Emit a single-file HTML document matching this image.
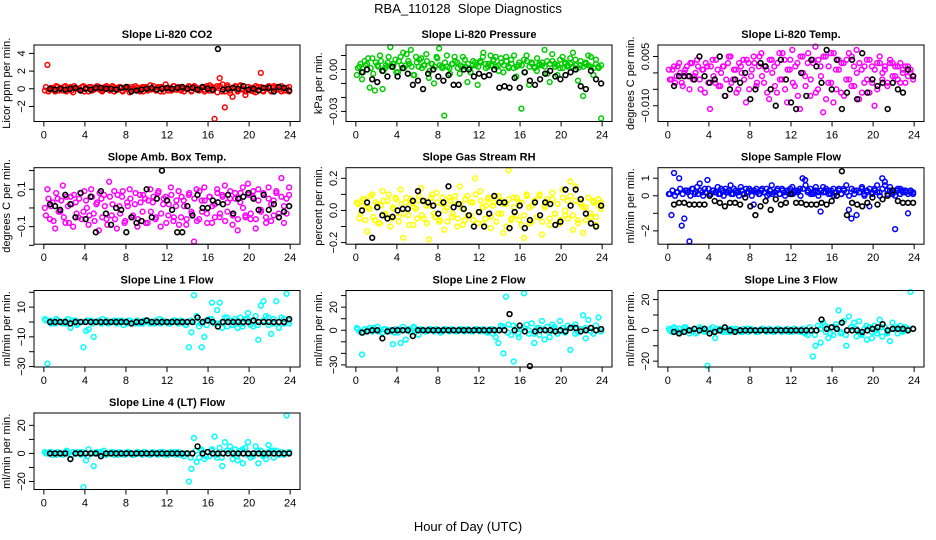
<!DOCTYPE html>
<html><head><meta charset="utf-8">
<style>
html,body{margin:0;padding:0;background:#fff;}
svg{display:block;font-family:"Liberation Sans",Arial,sans-serif;}
</style></head>
<body>
<svg id="chart" width="936" height="540" viewBox="0 0 936 540">
<rect x="0" y="0" width="936" height="540" fill="#fff"/>
<text x="468" y="13" text-anchor="middle" font-size="13" xml:space="preserve">RBA_110128  Slope Diagnostics</text>
<text x="468" y="531" text-anchor="middle" font-size="13">Hour of Day (UTC)</text>
</svg>
<script>
// ---------- data ----------
const titles = ["Slope Li-820 CO2","Slope Li-820 Pressure","Slope Li-820 Temp.","Slope Amb. Box Temp.","Slope Gas Stream RH","Slope Sample Flow","Slope Line 1 Flow","Slope Line 2 Flow","Slope Line 3 Flow","Slope Line 4 (LT) Flow"];
const yLabels = ["Licor ppm per min.","kPa per min.","degrees C per min.","degrees C per min.","percent per min.","ml/min per min.","ml/min per min.","ml/min per min.","ml/min per min.","ml/min per min."];
const colors = ["#ff0000","#00cc00","#ff00ff","#ff00ff","#ffff00","#0000ff","#00ffff","#00ffff","#00ffff","#00ffff"];
const xTicks = [0,4,8,12,16,20,24];
const yLims = [[-3.7,4.95],[-0.0372,0.0175],[-0.0148,0.0085],[-0.194,0.2155],[-0.21,0.266],[-2.76,1.6],[-30.3,21.2],[-31.8,34.4],[-23.8,25.9],[-25.7,28.8]];
const yTicks = [[-2,0,2,4],[-0.03,-0.02,-0.01,0,0.01],[-0.01,-0.005,0,0.005],[-0.2,-0.1,0,0.1,0.2],[-0.2,-0.1,0,0.1,0.2],[-2,-1,0,1],[-30,-20,-10,0,10,20],[-30,-20,-10,0,10,20,30],[-20,-10,0,10,20],[-20,-10,0,10,20]];
const yTickLabels = [["\u22122","0","2","4"],["\u22120.03","","","0.00",""],["\u22120.010","","","0.005"],["","\u22120.1","","0.1",""],["\u22120.2","","0.0","","0.2"],["\u22122","","0","1"],["\u221230","","\u221210","","10",""],["\u221230","","","0","","20",""],["\u221220","","0","","20"],["\u221220","","0","","20"]];

const colorVals = [
[-0.2,2.7,-0.1,0.1,-0.3,0.2,0.1,-0.2,0.3,-0.1,0.2,-0.4,0.1,0,-0.2,0.3,0.1,-0.3,0.2,-0.1,0.1,0.2,-0.2,0,0.3,-0.1,0.2,-0.3,0.1,0.2,-0.2,0.1,0,-0.4,0.2,-0.1,0.1,-0.3,0.2,0.1,-0.2,0.4,0,-0.1,0.2,-0.3,0.1,0.5,-0.2,0.1,0.3,-0.1,0.2,-0.2,0.1,0,0.3,-0.3,0.2,0.1,-0.2,0.1,-0.1,0.3,-0.2,0.2,-3.4,0.3,1.2,-0.3,-2.1,0.4,-0.2,-0.9,0.2,-0.3,0.3,-0.1,-0.7,0.2,-0.2,0.1,-0.4,0.2,1.8,-0.3,0.1,0.2,-0.2,0.3,-0.1,0.2,-0.3,0.1,-0.2,0.2],
[-0.004,0.002,-0.007,0.006,0.004,-0.013,0.008,-0.015,0.003,0.01,-0.014,0.001,0.005,0.016,0.004,0.007,-0.002,0.009,0.012,0.003,0.006,0.014,-0.004,0.009,0.002,0.008,0.003,0.011,-0.006,0.004,-0.01,0.009,0.015,0.002,-0.033,0.01,0.001,0.004,0.009,0.005,-0.003,0.002,0.007,-0.009,0.001,0.003,0.005,-0.011,0.006,0.009,0.004,0.002,0.01,0.006,0.009,0.003,0.008,-0.002,0.009,0.002,0.007,0.001,-0.005,0.003,-0.028,0.007,0.01,-0.011,0.005,0.002,-0.001,0.004,0.003,0.014,0.006,-0.009,0.011,0.004,-0.004,0.001,0.009,0.004,0.003,0.008,0.002,0.007,-0.008,0.003,-0.019,0.005,0.01,0.002,-0.004,0.007,0.001,-0.035],
[0.001,-0.002,0.002,-0.001,0.003,-0.003,0,0.002,-0.005,0.003,-0.001,0.004,-0.002,0.001,-0.006,0.002,-0.011,0.004,-0.003,0.001,-0.004,0.002,-0.007,0.003,0.005,-0.002,0.001,-0.005,0.002,0.004,-0.009,0.003,-0.001,0.005,-0.004,0.002,0.006,-0.003,0.001,-0.008,0.004,0.002,-0.006,0.006,-0.002,0.004,-0.009,0.001,0.007,-0.004,0.003,-0.011,0.005,-0.001,0.003,-0.007,0.004,0.008,-0.005,0.002,-0.012,0.005,-0.003,0.006,-0.009,0.001,0.004,-0.006,0.003,-0.002,0.006,-0.004,0.002,0.007,-0.008,0.001,-0.003,0.004,-0.006,0.002,-0.01,0.003,0.005,-0.002,0.001,-0.004,0.003,0.003,-0.001,0.002,-0.003,0.001,0.002,-0.001,0,-0.002],
[0,0.1,-0.06,0.03,-0.11,0.05,-0.02,0.12,-0.08,0.01,0.06,-0.1,0.03,-0.05,0.08,-0.02,0.04,-0.09,0.1,-0.03,0.02,-0.12,0.05,0.07,-0.06,0.14,-0.04,0.09,-0.11,0.01,0.06,-0.08,0.03,0.1,-0.05,0.02,-0.1,0.07,-0.02,0.05,-0.08,0.1,0.03,-0.06,0.08,-0.1,0.02,0.06,-0.04,0.11,-0.07,0.01,0.09,-0.05,0.04,-0.09,0.07,-0.02,-0.18,0.1,-0.06,0.04,0.11,-0.03,0.06,-0.08,0.02,0.1,-0.05,0.07,0.12,-0.02,0.05,-0.09,0.08,-0.12,0.03,0.11,-0.04,0.13,-0.06,0.06,-0.11,0.1,-0.01,0.08,-0.05,0.11,-0.07,0.04,0.09,-0.03,0.16,-0.08,0.05,0.11],
[0.05,-0.05,0.03,0.07,-0.13,0.01,0.1,-0.06,0.04,-0.08,0.12,-0.02,0.06,-0.1,0.02,0.08,-0.04,0.13,-0.17,0.05,-0.03,0.07,-0.09,0.01,0.06,0.14,-0.05,0.03,-0.18,0.08,-0.02,0.11,-0.07,0.04,-0.12,0.02,0.08,-0.04,0.06,-0.1,0.15,0.01,-0.06,0.09,-0.03,0.05,0.2,-0.08,0.12,0.02,-0.05,0.07,-0.11,0.03,0.09,-0.02,0.06,-0.14,0.04,0.25,-0.06,0.08,-0.03,0.05,-0.09,-0.17,0.1,0.02,-0.07,0.06,-0.04,0.09,-0.15,0.03,0.07,-0.05,0.11,-0.02,0.04,-0.08,0.13,-0.03,0.06,0.18,-0.12,0.15,-0.06,0.05,-0.14,0.02,0.08,-0.04,0.06,-0.09,0.03,0.05],
[0.1,-1.1,1.3,0.2,1.0,-1.7,-1.3,0.3,-2.6,0.4,0.1,0.5,0.7,0.2,0.4,0.9,0.1,0.3,0.2,0.5,0.1,0.3,0.4,0.2,0.6,0.1,0.3,0.2,0.5,0.1,0.4,0.2,0.3,-0.5,0.4,0.1,0.3,0.2,0.4,0.1,0.6,0.2,0.3,0.1,0.4,0.2,0.3,0.1,0.5,0.2,0.3,0.4,1.0,0.9,0.2,0.4,0.1,0.3,0.2,-0.9,0.5,0.2,0.3,0.1,0.4,0.2,0.3,0.1,0.4,0.6,-0.8,-1.3,0.3,-1.1,0.2,0.4,0.1,0.3,-0.6,0.2,0.4,0.6,0.2,1.0,0.8,0.3,0.5,0.1,-1.9,0.3,0.4,0.2,0.3,-1.0,0.2,0.1],
[2,-28,1,0,-1,1,0,-1,0.5,2,-4,0,1,-1,0,-17,-6,-5,1,-10,0,1,-1,0,1,-0.5,0,1,-1,0,1,0,-1,1,0,-1,1,0,-1,0,1,-1,0,1,0,-1,1,0,-1,0,1,0,-1,1,0,-2,-17,-7,18,4,-3,-17,-10,-2,2,13,-1,8,13,-4,3,-3,1,-2,2,-4,3,-1,2,6,-2,-3,4,-12,11,14,4,-2,-8,2,14,-4,3,-1,19,1],
[2,-1,-21,1,0,2,-1,1,3,0,-2,1,0,-1,-12,1,-2,-11,3,-8,1,-1,3,0,-4,1,0,-1,1,0,-1,1,0,-1,1,0,-1,1,0,-1,1,0,-1,1,0,-1,1,0,-1,1,0,-1,1,-3,-6,-11,4,-20,29,5,-4,-27,2,-6,1,32,5,-3,6,-11,2,-4,8,-8,3,-6,5,1,-3,8,2,-2,4,-17,3,5,-2,1,13,-7,9,2,-3,4,11,-1],
[1,-1,2,0,1,-1,2,1,-2,0,1,-1,2,0,-1,-23,1,2,-5,0,1,-1,0,1,-1,0,1,0,-1,1,0,-1,1,0,-1,0,1,0,-1,1,0,-1,1,0,-1,0,1,0,-1,1,0,-1,1,-2,-3,0,-17,-10,3,-8,5,-1,-5,2,-3,4,13,-2,6,-10,9,2,5,-4,6,-3,1,-6,2,-5,3,-2,7,-4,2,-1,-7,5,1,-2,3,0,2,1,25,1],
[1,0,1,-1,0,1,0,-1,1,0,-4,1,0,1,-1,-24,-5,3,0,-9,1,0,1,2,-1,0,1,-1,0,1,0,-1,1,0,-1,0,1,0,-1,1,0,-1,1,0,-1,0,1,0,-1,1,0,-1,1,-1,-2,0,-20,-11,11,-6,-3,2,-4,1,-2,3,12,-3,4,-9,8,2,5,-4,3,-5,2,-7,4,8,-3,-2,5,-7,2,-1,-4,6,2,-3,2,0,1,-1,27,1]
];
const colorBand = [
[0.2,-0.3,0.1,-0.1,0.3,-0.2,0,0.2,-0.3,0.1,-0.2,0.3,0,-0.1,0.2,-0.3,0.1,0.2,-0.2,0,0.3,-0.1,-0.3,0.2,0.1,-0.2,0.3,0,-0.1,0.2,-0.3,0.1,0.2,-0.1,0,0.3,-0.2,0.1,-0.3,0.2,0,-0.1,0.3,-0.2,0.1,0.2,-0.3,0,0.1,-0.2,0.3,-0.1,0.2,0,-0.3,0.1,0.2,-0.2,0.3,-0.1,0,0.2,-0.3,0.1,0.4,-0.2,0.1,-0.4,0.3,0.5,-0.3,0.2,-0.5,0.1,0.3,-0.2,0.4,0,-0.3,0.2,0.1,-0.3,0.3,-0.1,0.2,-0.2,0,0.3,-0.3,0.1,0.2,-0.1,0.3,-0.2,0.1,-0.3],
[0.001,0.004,-0.002,0.003,0.008,0.001,-0.003,0.005,0.002,0.006,-0.001,0.003,0.009,0.002,0.004,-0.002,0.006,0.003,0.001,0.011,0.004,0.002,-0.004,0.005,0.007,0.001,0.003,0.006,-0.001,0.004,0.002,0.008,0.003,0.001,0.005,0.002,-0.003,0.004,0.006,0.001,0.003,0.009,0.002,0.004,-0.002,0.006,0.003,0.002,0.005,0.012,0.001,0.004,0.003,0.007,0.002,-0.001,0.005,0.003,0.006,0.001,0.004,0.01,0.002,0.005,0.003,-0.002,0.006,0.002,0.004,0.001,0.008,0.003,0.005,0.002,-0.003,0.004,0.006,0.002,0.003,0.007,0.001,0.005,0.002,0.004,0.012,0.003,0.001,0.006,0.002,0.004,0.003,0.009,0.001,0.004,0.002,0.003],
[-0.002,0.001,-0.003,0.002,0,-0.004,0.001,-0.001,0.003,-0.002,0,0.002,-0.005,0.001,0.003,-0.003,0.002,-0.001,0.004,-0.004,0,0.002,-0.002,0.005,-0.003,0.001,-0.006,0.003,0,-0.002,0.004,-0.005,0.001,0.003,-0.003,0.005,-0.001,0.002,-0.006,0.004,0,-0.004,0.003,-0.002,0.006,-0.005,0.001,0.004,-0.003,0.002,-0.007,0.005,0,-0.004,0.006,-0.002,0.003,-0.006,0.004,-0.001,0.005,-0.008,0.002,-0.003,0.006,-0.005,0.001,0.003,-0.007,0.004,-0.002,0.005,-0.004,0,0.003,-0.006,0.002,-0.002,0.004,-0.003,0.001,-0.005,0.003,0,0.002,-0.003,0.004,-0.001,0.002,-0.002,0.003,0,-0.003,0.002,0.001,-0.001],
[-0.04,0.05,0.01,-0.07,0.08,-0.02,0.04,-0.05,0.06,-0.08,0.02,0.07,-0.03,0.05,-0.06,0.09,0,-0.04,0.06,-0.07,0.03,0.08,-0.05,0.01,-0.09,0.06,0.02,-0.06,0.07,-0.03,0.09,-0.07,0.01,0.05,-0.04,0.08,-0.06,0.03,0.07,-0.08,0.04,-0.02,0.06,-0.05,0.09,-0.03,0.05,-0.08,0.02,0.07,-0.05,0.04,-0.09,0.06,0.01,-0.06,0.08,-0.03,0.05,-0.07,0.09,-0.02,0.04,-0.08,0.06,0.01,-0.05,0.08,-0.03,0.06,-0.07,0.03,0.09,-0.04,0.05,-0.06,0.08,0,-0.05,0.07,-0.03,0.09,-0.06,0.04,-0.02,0.07,-0.08,0.05,0.02,-0.04,0.08,-0.05,0.06,0.01,-0.03,0.07],
[0.04,-0.02,0.07,-0.06,0.02,0.09,-0.04,0.05,-0.08,0.03,0.06,-0.03,0.1,-0.05,0.01,0.07,-0.07,0.04,-0.02,0.08,-0.09,0.05,0.02,-0.05,0.09,-0.03,0.06,-0.08,0.03,0.1,-0.04,0.05,-0.06,0.08,0,-0.07,0.06,-0.02,0.09,-0.05,0.04,-0.09,0.07,-0.03,0.05,-0.06,0.1,-0.01,0.06,-0.08,0.03,0.08,-0.04,0.05,-0.07,0.09,-0.02,0.04,-0.1,0.07,-0.05,0.02,0.08,-0.06,0.05,-0.03,0.09,-0.08,0.03,0.06,-0.04,0.1,-0.07,0.02,0.05,-0.09,0.07,-0.02,0.04,-0.06,0.08,0,-0.05,0.09,-0.03,0.06,-0.08,0.04,0.02,-0.06,0.08,-0.02,0.05,-0.04,0.07,0.01],
[0.1,0.3,0,0.2,0.4,0.1,0.3,0.2,0,0.4,0.2,0.1,0.3,0,0.2,0.4,0.1,0.3,0.2,0.1,0.4,0,0.2,0.3,0.1,0.4,0.2,0,0.3,0.1,0.2,0.4,0,0.3,0.2,0.1,0.4,0.2,0,0.3,0.1,0.2,0.4,0.1,0.3,0,0.2,0.4,0.1,0.3,0.2,0,0.4,0.6,0.3,0.1,0.2,0.5,0,0.3,0.2,0.4,0.1,0.3,0,0.2,0.4,0.1,0.3,0.2,0,0.4,0.1,0.3,0.2,0.5,0,0.2,0.4,0.1,0.3,0.2,0,0.4,0.6,0.1,0.3,0.2,0,0.4,0.1,0.3,0.2,0.1,0.3,0.2],
[1,-1,2,0,-1,1,-2,0,1,-1,0,2,-1,0,1,-2,1,0,-1,1,0,-1,2,0,-1,1,0,-2,1,0,-1,1,2,-1,0,3,-2,1,-3,2,0,-2,1,3,-1,0,2,-1],
[1,-2,0,2,-1,1,0,-2,1,0,-1,2,0,-1,1,0,-2,1,0,-1,1,0,-1,1,0,-2,1,0,3,-2,4,-3,2,0,-3,2,1,-2,3,-1,0,2,-3,1,2,-1,0,1],
[0,1,-1,2,0,-2,1,0,-1,1,0,-1,1,0,-1,1,0,-1,1,0,-1,1,0,-1,1,0,-1,2,-3,1,3,-2,2,-1,-3,2,1,-2,3,-1,0,2,-2,1,2,-1,0,1],
[0,1,-1,0,2,-1,0,1,-2,0,1,-1,0,1,-1,0,1,-1,0,1,-1,0,1,-1,0,1,-1,0,-3,2,3,-2,2,-1,-3,2,1,-2,3,-1,0,2,-2,1,2,-1,0,1]
];
const blackVals = [
[0,-0.1,0,-0.1,0,0.1,-0.2,0,-0.1,0.1,0.1,0,0,-0.1,0.1,0.2,-0.3,-0.2,-0.1,0,0.1,-0.1,0,0.1,0,0.1,0.2,0,0.1,-0.1,0.2,0,-0.1,4.5,-0.1,0,0.1,0,0.3,-0.1,0,-0.2,0.1,0.1,-0.3,0.2,0.1,-0.2],
[-0.002,0,-0.007,-0.009,-0.001,-0.005,0.002,-0.005,0.001,-0.003,-0.011,-0.008,-0.014,-0.003,0,-0.005,-0.008,-0.004,-0.011,-0.011,0,0,-0.005,-0.003,-0.005,-0.004,0,-0.013,-0.012,-0.013,-0.006,-0.013,-0.002,-0.008,-0.011,-0.007,-0.003,-0.001,-0.005,-0.007,-0.004,-0.002,0,-0.012,-0.014,-0.001,-0.007,-0.01],
[-0.004,-0.001,-0.001,-0.001,-0.002,0.005,-0.001,-0.003,-0.002,0.005,-0.007,-0.005,-0.002,-0.003,0,-0.008,-0.005,0.003,0.002,-0.005,-0.01,0.004,-0.002,-0.009,-0.011,0,-0.007,0.004,0.002,-0.003,0.007,-0.005,0.004,-0.011,-0.006,0.004,-0.008,0.006,-0.006,-0.002,-0.004,-0.003,-0.011,-0.003,-0.005,-0.006,0.001,-0.001],
[0.02,0.01,-0.01,0.07,0.02,-0.05,0.08,-0.06,0.06,-0.13,0.09,-0.03,-0.09,0,-0.01,-0.13,-0.05,-0.08,-0.07,0.1,-0.05,0.05,0.2,0.04,-0.01,-0.13,-0.13,0.01,-0.04,0.07,0,0,0.04,0.03,0.02,0.07,-0.03,0.05,0.06,0.08,0.05,-0.01,0.07,-0.01,0.02,-0.05,-0.02,0.01],
[0,0.05,-0.17,0.02,-0.03,-0.05,-0.04,0,0.01,0.01,0.06,0.12,0.06,0.05,0.03,-0.02,0.05,0.15,0.02,0.04,0.01,-0.03,-0.1,-0.01,-0.1,-0.02,0.09,0.05,0.05,-0.11,-0.01,0.03,-0.11,-0.06,0.05,-0.03,0.05,0.04,-0.09,-0.07,0.13,0.03,0.13,0.07,-0.02,-0.08,-0.1,0.03],
[-0.5,-0.4,-0.4,-0.5,-0.5,-0.5,-0.5,0,-0.3,-0.4,-0.6,-0.4,-0.4,-0.5,-0.1,-0.6,-1.1,-0.6,-0.3,-0.8,-0.2,-0.5,-0.4,0.1,-0.4,-0.4,-0.5,-0.5,-0.5,-0.4,-0.5,-0.3,0,1.4,-1.1,-0.4,-0.5,-0.6,-0.4,-0.1,-0.5,-0.2,0,0.3,-0.3,-0.4,-0.4,-0.4],
[0,0,0,0,-1,0,0,0,0,0,0,0,0,0,0,0,-1,0,0,1,0,0,0,0,0,0,0,0,0,3,0,1,0,-3,0,0,0,0,0,0,1,0,0,0,0,0,0,2],
[-2,-1,0,0,-7,-1,0,0,0,0,-5,0,0,0,0,0,0,0,0,0,0,0,0,0,0,0,0,0,0,14,0,4,-1,-31,-1,0,0,0,-1,0,-1,2,2,-1,0,2,0,1],
[-1,-2,-1,0,1,0,1,-2,-1,0,2,0,-1,0,0,0,0,0,0,0,0,0,0,0,0,0,0,0,0,7,1,2,1,5,0,0,0,-1,0,1,2,4,0,1,1,1,0,1],
[0,0,0,0,-4,0,0,0,0,0,-2,0,0,0,0,0,0,0,0,0,0,0,0,0,0,0,0,0,0,5,0,1,0,0,0,0,0,0,0,0,0,0,0,0,0,0,0,0]
];

// ---------- layout ----------
const NS = "http://www.w3.org/2000/svg";
const svg = document.getElementById("chart");
const colLefts = [34, 346, 658];
const rowTops = [45, 167.7, 290.5, 413];
const PW = 266, PH = 76.5;
const XMIN = -0.96, XMAX = 24.96;

function mk(tag, attrs, parent) {
  const e = document.createElementNS(NS, tag);
  for (const k in attrs) e.setAttribute(k, attrs[k]);
  (parent || svg).appendChild(e);
  return e;
}

for (let p = 0; p < titles.length; p++) {
  const L = colLefts[p % 3], T = rowTops[Math.floor(p / 3)];
  const [y0, y1] = yLims[p];
  const sx = v => L + (v - XMIN) / (XMAX - XMIN) * PW;
  const sy = v => T + PH - (v - y0) / (y1 - y0) * PH;

  const g = mk("g", {});
  
  

  const t = mk("text", {x: L + PW / 2, y: T - 7, "text-anchor": "middle", "font-size": "11", "font-weight": "bold"}, g);
  
  
  t.textContent = titles[p];

  const bd = colorBand[p];
  for (let i = 0; i < bd.length; i++) {
    const x = 0.2 + i * 23.7 / (bd.length - 1);
    const c = mk("circle", {cx: sx(x), cy: sy(bd[i]), r: 2.4, fill: "none", stroke: colors[p], "stroke-width": 1.5}, g);
    
    
  }
  const cv = colorVals[p];
  for (let i = 0; i < cv.length; i++) {
    const x = 0.1 + i * 23.8 / (cv.length - 1);
    const c = mk("circle", {cx: sx(x), cy: sy(cv[i]), r: 2.4, fill: "none", stroke: colors[p], "stroke-width": 1.5}, g);
    
    
  }
  const bv = blackVals[p];
  for (let i = 0; i < bv.length; i++) {
    const x = 0.6 + i * 23.3 / (bv.length - 1);
    const c = mk("circle", {cx: sx(x), cy: sy(bv[i]), r: 2.4, fill: "none", stroke: "#000", "stroke-width": 1.6}, g);
    
    
  }

  const b = mk("rect", {x: L, y: T, width: PW, height: PH, fill: "none", stroke: "#000", "stroke-width": 1}, g);
  
  

  const xa = mk("g", {}, g);
  
  
  mk("line", {x1: sx(xTicks[0]), x2: sx(xTicks[xTicks.length - 1]), y1: T + PH, y2: T + PH, stroke: "#000"}, xa);
  xTicks.forEach(v => {
    mk("line", {x1: sx(v), x2: sx(v), y1: T + PH, y2: T + PH + 5, stroke: "#000"}, xa);
    const tl = mk("text", {x: sx(v), y: T + PH + 17, "text-anchor": "middle", "font-size": "11"}, xa);
    
    
    tl.textContent = v;
  });

  const ya = mk("g", {}, g);
  
  
  const yt = yTicks[p];
  mk("line", {x1: L, x2: L, y1: sy(yt[0]), y2: sy(yt[yt.length - 1]), stroke: "#000"}, ya);
  yt.forEach((v, i) => {
    mk("line", {x1: L - 5, x2: L, y1: sy(v), y2: sy(v), stroke: "#000"}, ya);
    const lab = yTickLabels[p][i];
    if (lab) {
      const tx = L - 9, ty = sy(v);
      const tl = mk("text", {x: tx, y: ty, "text-anchor": "middle", "font-size": "11", transform: "rotate(-90 " + tx + " " + ty + ")"}, ya);
      
      
      tl.textContent = lab;
    }
  });
  const yx = L - 24, yy = T + PH / 2;
  const yl = mk("text", {x: yx, y: yy, "text-anchor": "middle", "font-size": "11", transform: "rotate(-90 " + yx + " " + yy + ")"}, g);
  
  
  yl.textContent = yLabels[p];
}
</script>
</body></html>
